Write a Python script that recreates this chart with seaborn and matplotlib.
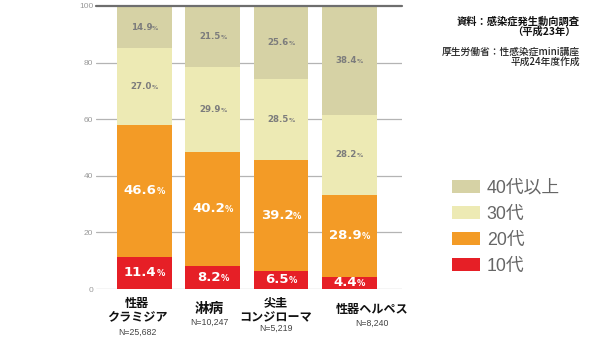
import matplotlib
matplotlib.use("Agg")
import matplotlib.pyplot as plt
import seaborn as sns
import numpy as np
from matplotlib.offsetbox import TextArea, HPacker, AnnotationBbox
from matplotlib.patches import Patch

# ---- data ----
diseases = ["性器\nクラミジア", "淋病", "尖圭\nコンジローマ", "性器ヘルペス"]
n_labels = ["N=25,682", "N=10,247", "N=5,219", "N=8,240"]
age_groups = ["10代", "20代", "30代", "40代以上"]
teens = [11.4, 8.2, 6.5, 4.4]
twenties = [46.6, 40.2, 39.2, 28.9]
thirties = [27.0, 29.9, 28.5, 28.2]
forties = [14.9, 21.5, 25.6, 38.4]
colors = ["#E61F26", "#F39B26", "#EDEAB4", "#D6D2A5"]
yticks = [0, 20, 40, 60, 80, 100]
source_lines = ["資料：感染症発生動向調査", "（平成23年）"]
credit_lines = ["厚生労働省：性感染症mini講座", "平成24年度作成"]

sns.set_style("white")
CJK = ["Noto Sans CJK JP", "DejaVu Sans"]
LAT = ["Liberation Sans", "Noto Sans CJK JP"]
plt.rcParams["font.family"] = CJK

fig = plt.figure(figsize=(6.0, 3.37), dpi=100)
W, H = 600, 337
ax = fig.add_axes([96 / W, 1 - 289 / H, (402 - 96) / W, 283 / H])

series = [teens, twenties, thirties, forties]
cat_keys = [d.replace("\n", "") for d in diseases]
cum = np.cumsum(np.array(series), axis=0)

# stacked bars: draw cumulative totals from the top segment down
for i in reversed(range(len(series))):
    sns.barplot(x=cat_keys, y=cum[i], order=cat_keys, color=colors[i],
                saturation=1, width=0.8, errorbar=None, ax=ax,
                linewidth=0, zorder=2)

ax.set_xlim(-0.71, 3.77)
ax.set_ylim(0, 100)
ax.set_yticks(yticks)
ax.set_yticklabels([str(t) for t in yticks], family=LAT, fontsize=6, color="#9a9a9a")
ax.tick_params(axis="y", length=0, pad=2)
ax.set_xticks(range(len(cat_keys)))
ax.set_xticklabels([])
ax.tick_params(axis="x", length=0)
ax.set_xlabel("")
ax.set_ylabel("")
for s in ax.spines.values():
    s.set_visible(False)
for t in yticks[:-1]:
    ax.axhline(t, color="#b4b4b4", lw=0.9, zorder=1)
ax.axhline(100, color="#6e6e6e", lw=1.6, zorder=3, clip_on=False)

# segment value labels
for j in range(len(cat_keys)):
    bottom = 0
    for i, vals in enumerate(series):
        v = vals[j]
        mid = bottom + v / 2
        bottom += v
        if i < 2:
            col, s1, s2 = "white", 9.5, 6.0
        else:
            col, s1, s2 = "#7c7c7c", 6.2, 4.4
        t1 = TextArea(f"{v:.1f}", textprops=dict(color=col, fontsize=s1,
                                                 fontweight="bold", family="DejaVu Sans"))
        t2 = TextArea("%", textprops=dict(color=col, fontsize=s2,
                                          fontweight="bold", family="DejaVu Sans"))
        box = HPacker(children=[t1, t2], align="baseline", pad=0, sep=0)
        ab = AnnotationBbox(box, (j, mid), xycoords="data", frameon=False,
                            box_alignment=(0.5, 0.5), pad=0, zorder=5,
                            annotation_clip=False)
        ax.add_artist(ab)

# category labels under bars (layout offsets relative to bar centres)
def yfrac(px):
    return (289 - px) / 283

label_dx = [-0.11, -0.05, -0.075, 0.33]
name_y = [[303, 318], [308], [303, 318], [310]]
n_y = [332, 322, 328, 323]
for j, name in enumerate(diseases):
    parts = name.split("\n")
    size = 10.5 if len(parts) == 1 and len(parts[0]) == 2 else 8.7
    xj = j + label_dx[j]
    for k, p in enumerate(parts):
        ax.text(xj, yfrac(name_y[j][k]), p, transform=ax.get_xaxis_transform(),
                ha="center", va="center", fontsize=size, fontweight="bold",
                color="#111111", family=CJK, clip_on=False)
    ax.text(xj, yfrac(n_y[j]), n_labels[j], transform=ax.get_xaxis_transform(),
            ha="center", va="center", fontsize=6.3, color="#444444", family=LAT,
            clip_on=False)

# legend
handles = [Patch(facecolor=colors[i], edgecolor="none", label=age_groups[i])
           for i in reversed(range(len(age_groups)))]
leg = fig.legend(handles=handles, loc="upper left",
                 bbox_to_anchor=(452 / W, 1 - 180 / H), frameon=False,
                 prop=dict(family=LAT, size=12.8), labelcolor="#666666",
                 handlelength=1.6, handleheight=0.75, handletextpad=0.35,
                 labelspacing=0.5, borderpad=0, borderaxespad=0)

# source notes
fig.text(580 / W, 1 - 22 / H, source_lines[0], ha="right", va="center",
         fontsize=7.4, fontweight="bold", color="#111111", family=CJK)
fig.text(576 / W, 1 - 32 / H, source_lines[1], ha="right", va="center",
         fontsize=7.4, fontweight="bold", color="#111111", family=CJK)
fig.text(580 / W, 1 - 51.5 / H, credit_lines[0], ha="right", va="center",
         fontsize=7.0, fontweight="medium", color="#222222", family=CJK)
fig.text(580 / W, 1 - 62 / H, credit_lines[1], ha="right", va="center",
         fontsize=7.0, fontweight="medium", color="#222222", family=CJK)

fig.savefig("out.png", dpi=100)
